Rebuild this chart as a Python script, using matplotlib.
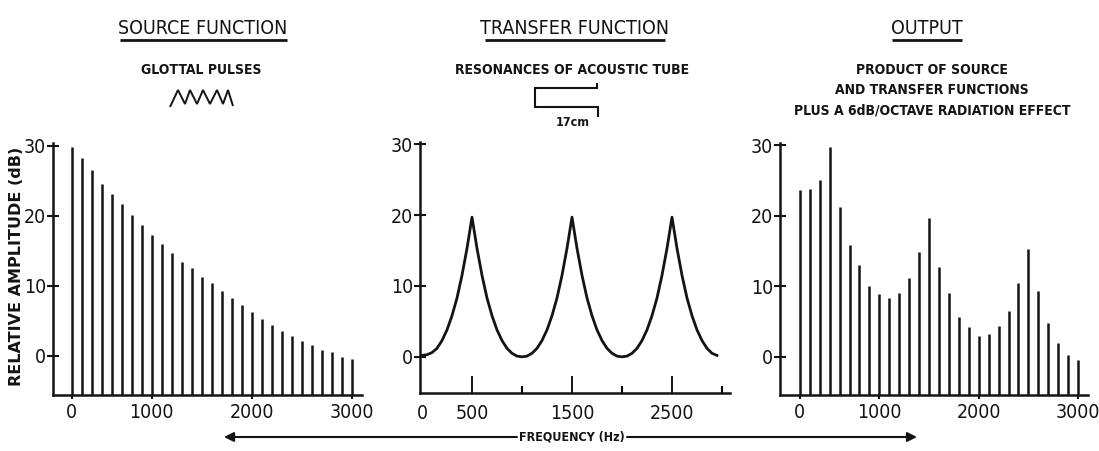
import matplotlib.pyplot as plt
from matplotlib.lines import Line2D

W, H = 1099, 451

# harmonics (Hz) shared by source and output panels
harmonic_hz = [200, 300, 400, 500, 600, 700, 800, 900, 1000, 1100,
               1200, 1300, 1400, 1500, 1600, 1700, 1800, 1900, 2000, 2100,
               2200, 2300, 2400, 2500, 2600, 2700, 2800, 2900, 3000]
source_db = [29.9, 28.2, 26.6, 24.6, 23.1, 21.7, 20.1, 18.7, 17.2, 16.0,
             14.7, 13.4, 12.5, 11.3, 10.4, 9.2, 8.3, 7.3, 6.3, 5.2,
             4.4, 3.5, 2.8, 2.1, 1.5, 0.8, 0.6, -0.1, -0.5]
output_db = [23.6, 23.8, 25.1, 29.7, 21.3, 15.9, 13.0, 10.1, 8.9, 8.3,
             9.1, 11.2, 14.9, 19.7, 12.7, 9.0, 5.6, 4.2, 2.9, 3.3,
             4.4, 6.5, 10.4, 15.3, 9.3, 4.8, 1.9, 0.3, -0.4]

transfer_hz = list(range(0, 3000, 50))
transfer_db = [0.2, 0.3, 0.6, 1.2, 2.3, 3.8, 5.8, 8.3, 11.5, 15.3,
               19.7, 15.3, 11.5, 8.3, 5.8, 3.8, 2.3, 1.2, 0.5, 0.1,
               0.0, 0.1, 0.5, 1.2, 2.3, 3.8, 5.8, 8.3, 11.5, 15.3,
               19.7, 15.3, 11.5, 8.3, 5.8, 3.8, 2.3, 1.2, 0.5, 0.1,
               0.0, 0.1, 0.5, 1.2, 2.3, 3.8, 5.8, 8.3, 11.5, 15.3,
               19.7, 15.3, 11.5, 8.3, 5.8, 3.8, 2.3, 1.2, 0.5, 0.2]

harm_ticks = [200, 1000, 2000, 3000]
harm_labels = ["0", "1000", "2000", "3000"]
transfer_ticks = [0, 500, 1500, 2500]
transfer_labels = ["0", "500", "1500", "2500"]
transfer_minor = [1000, 2000, 3000]
db_ticks = [0, 10, 20, 30]

INK = "#141414"
plt.rcParams["font.family"] = ["DejaVu Sans Condensed", "DejaVu Sans"]
plt.rcParams["font.stretch"] = "condensed"


def rect(x0, y0, x1, y1):
    # pixel box (top-left origin) -> figure fraction rect
    return [x0 / W, 1 - y1 / H, (x1 - x0) / W, (y1 - y0) / H]


def fx(x):
    return x / W


def fy(y):
    return 1 - y / H


def style_axes(ax):
    for side in ("top", "right"):
        ax.spines[side].set_visible(False)
    for side in ("left", "bottom"):
        ax.spines[side].set_linewidth(1.8)
        ax.spines[side].set_color(INK)
    ax.set_yticks(db_ticks)
    ax.set_yticklabels([str(t) for t in db_ticks])
    ax.tick_params(axis="y", direction="inout", length=8, width=1.5,
                   pad=1, labelsize=14, colors=INK)


def draw_line(xs, ys, lw=1.6):
    fig.add_artist(Line2D([fx(x) for x in xs], [fy(y) for y in ys],
                          color=INK, lw=lw, solid_capstyle="butt",
                          solid_joinstyle="miter"))


fig = plt.figure(figsize=(W / 100, H / 100), dpi=100)

# source function
ax1 = fig.add_axes(rect(53, 143, 362, 395))
ax1.vlines(harmonic_hz, -5.6, source_db, color=INK, lw=1.8)
ax1.set_xlim(13, 3103)
ax1.set_ylim(-5.6, 30.4)
style_axes(ax1)
ax1.set_xticks(harm_ticks)
ax1.set_xticklabels(harm_labels)
ax1.tick_params(axis="x", direction="out", length=3, width=1.5, pad=3,
                labelsize=14, colors=INK)

# transfer function
ax2 = fig.add_axes(rect(420, 142, 730, 393))
ax2.plot(transfer_hz, transfer_db, color=INK, lw=2.0, solid_joinstyle="round")
ax2.set_xlim(-20, 3080)
ax2.set_ylim(-5.1, 30.3)
style_axes(ax2)
ax2.set_xticks(transfer_ticks)
ax2.set_xticklabels(transfer_labels)
ax2.set_xticks(transfer_minor, minor=True)
ax2.tick_params(axis="x", which="major", direction="in", length=12, width=1.4,
                pad=8, labelsize=14, colors=INK)
ax2.tick_params(axis="x", which="minor", direction="in", length=5, width=1.4)
ax2.xaxis.get_major_ticks()[0].tick1line.set_visible(False)

# output
ax3 = fig.add_axes(rect(780, 143, 1088, 395))
ax3.vlines(harmonic_hz, -5.4, output_db, color=INK, lw=1.8)
ax3.set_xlim(0, 3100)
ax3.set_ylim(-5.4, 30.3)
style_axes(ax3)
ax3.set_xticks(harm_ticks)
ax3.set_xticklabels(harm_labels)
ax3.tick_params(axis="x", direction="out", length=3, width=1.5, pad=3,
                labelsize=14, colors=INK)

fig.text(fx(17), fy(266), "RELATIVE AMPLITUDE (dB)", rotation=90,
         ha="center", va="center", fontsize=11.5, fontweight="bold",
         family="DejaVu Sans", stretch="normal", color=INK)

# headings with underlines
for cx, text, ux0, ux1 in [(203, "SOURCE FUNCTION", 120, 287),
                           (575, "TRANSFER FUNCTION", 485, 665),
                           (927, "OUTPUT", 892, 962)]:
    fig.text(fx(cx), fy(29), text, ha="center", va="center", fontsize=14,
             color=INK)
    draw_line([ux0, ux1], [40, 40], lw=2.0)

sub = dict(ha="center", va="center", fontsize=10, fontweight="bold", color=INK)
fig.text(fx(201), fy(70), "GLOTTAL PULSES", **sub)
fig.text(fx(572), fy(70), "RESONANCES OF ACOUSTIC TUBE", **sub)
fig.text(fx(932), fy(70), "PRODUCT OF SOURCE", **sub)
fig.text(fx(932), fy(90), "AND TRANSFER FUNCTIONS", **sub)
fig.text(fx(932), fy(110), "PLUS A 6dB/OCTAVE RADIATION EFFECT", **sub)
fig.text(fx(573), fy(123), "17cm", ha="center", va="center", fontsize=9,
         fontweight="bold", color=INK)

# glottal pulse zigzag
draw_line([170, 178, 185, 190, 197, 203, 210, 217, 223, 228, 233],
          [107, 90, 104, 90, 104, 90, 104, 90, 104, 90, 106], lw=1.4)

# acoustic tube sketch
draw_line([597, 597, 535, 535, 598, 598], [83, 88, 88, 107, 107, 117], lw=1.5)

# frequency arrow
fig.text(fx(572), fy(437), "FREQUENCY (Hz)", ha="center", va="center",
         fontsize=9, fontweight="bold", color=INK)
fig.add_artist(plt.Annotation("", xy=(fx(224), fy(437)), xytext=(fx(517), fy(437)),
                              xycoords="figure fraction",
                              arrowprops=dict(arrowstyle="-|>", color=INK, lw=1.5,
                                              mutation_scale=14, shrinkA=0, shrinkB=0)))
fig.add_artist(plt.Annotation("", xy=(fx(917), fy(437)), xytext=(fx(627), fy(437)),
                              xycoords="figure fraction",
                              arrowprops=dict(arrowstyle="-|>", color=INK, lw=1.5,
                                              mutation_scale=14, shrinkA=0, shrinkB=0)))

fig.savefig("out.png", dpi=100)
plt.close(fig)
